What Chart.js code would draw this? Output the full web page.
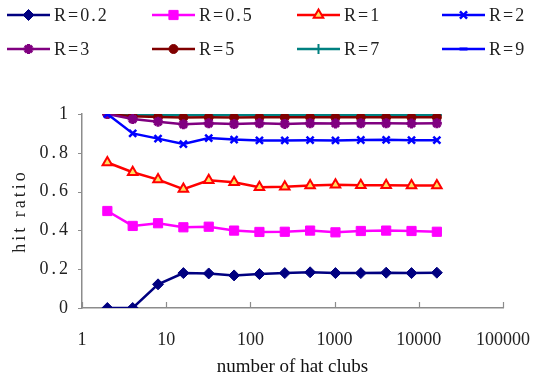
<!DOCTYPE html>
<html><head><meta charset="utf-8">
<script src="https://cdn.jsdelivr.net/npm/chart.js@4"></script>
<style>html,body{margin:0;padding:0;background:#fff;}#wrap{width:554px;height:383px;position:relative;}</style>
</head><body><div id="wrap"><canvas id="c" width="554" height="383"></canvas></div>
<script>
// ---- data ----
const hatClubs = [2,4,8,16,32,64,128,256,512,1024,2048,4096,8192,16384];
const seriesNames = ['R=0.2','R=0.5','R=1','R=2','R=3','R=5','R=7','R=9'];
const r02 = [0, 0, 0.122, 0.180, 0.178, 0.168, 0.175, 0.180, 0.184, 0.180, 0.180, 0.182, 0.180, 0.182];
const r05 = [0.500, 0.423, 0.437, 0.416, 0.419, 0.399, 0.392, 0.393, 0.399, 0.390, 0.397, 0.399, 0.397, 0.393];
const r1  = [0.750, 0.700, 0.662, 0.613, 0.658, 0.648, 0.622, 0.625, 0.632, 0.635, 0.633, 0.633, 0.632, 0.632];
const r2  = [1.000, 0.900, 0.873, 0.845, 0.876, 0.868, 0.864, 0.864, 0.865, 0.864, 0.866, 0.867, 0.865, 0.865];
const r3  = [1.000, 0.974, 0.960, 0.947, 0.952, 0.948, 0.952, 0.949, 0.952, 0.951, 0.952, 0.952, 0.951, 0.952];
const r5  = [1.000, 0.988, 0.984, 0.982, 0.983, 0.982, 0.983, 0.983, 0.983, 0.983, 0.983, 0.983, 0.983, 0.983];
const r7  = [1.000, 0.997, 0.995, 0.994, 0.995, 0.995, 0.995, 0.995, 0.995, 0.995, 0.995, 0.995, 0.995, 0.995];
const r9  = [1, 1, 1, 1, 1, 1, 1, 1, 1, 1, 1, 1, 1, 1];
const xTickValues = [1, 10, 100, 1000, 10000, 100000];
const yTickValues = [0, 0.2, 0.4, 0.6, 0.8, 1];
const xTitle = 'number of hat clubs';
const yTitle = 'hit ratio';

// ---- styles ----
const seriesValues = [r02, r05, r1, r2, r3, r5, r7, r9];
const styles = [
  {color:'#000080', point:'rectRot', r:5.5, fill:'#000080', bw:1},
  {color:'#FF00FF', point:'rect', r:6.5, fill:'#FF00FF', bw:1},
  {color:'#FF0000', point:'triangle', r:5.5, fill:'#FFE060', bw:2},
  {color:'#0000FF', point:'crossRot', r:5, fill:'#0000FF', bw:2.5},
  {color:'#800080', point:'star', r:5, fill:'#800080', bw:3},
  {color:'#800000', point:'circle', r:4.5, fill:'#800000', bw:1},
  {color:'#008080', point:'cross', r:5, fill:'#008080', bw:2},
  {color:'#0000FF', point:'line', r:4, fill:'#0000FF', bw:3}
];

const datasets = seriesNames.map((name, i) => ({
  label: name,
  data: hatClubs.map((x, j) => ({x: x, y: seriesValues[i][j]})),
  borderColor: styles[i].color,
  backgroundColor: styles[i].fill,
  borderWidth: 2.5,
  pointStyle: styles[i].point,
  pointRadius: styles[i].r,
  pointBackgroundColor: styles[i].fill,
  pointBorderColor: styles[i].color,
  pointBorderWidth: styles[i].bw,
  tension: 0,
  fill: false
}));

const AXIS_COLOR = '#8c8c8c';

const legendPlugin = {
  id: 'customLegend',
  afterDraw(chart) {
    const ctx = chart.ctx;
    chart.data.datasets.forEach((ds, i) => {
      const col = i % 4, row = Math.floor(i / 4);
      const x0 = 7 + col * 145, y = 15 + row * 34;
      ctx.save();
      ctx.strokeStyle = ds.borderColor; ctx.lineWidth = 2.5;
      ctx.beginPath(); ctx.moveTo(x0, y); ctx.lineTo(x0 + 43, y); ctx.stroke();
      ctx.fillStyle = ds.pointBackgroundColor; ctx.strokeStyle = ds.pointBorderColor;
      ctx.lineWidth = ds.pointBorderWidth;
      Chart.helpers.drawPoint(ctx, {pointStyle: ds.pointStyle, radius: ds.pointRadius, rotation: 0, borderWidth: ds.pointBorderWidth}, x0 + 21.5, y);
      ctx.fillStyle = '#222';
      ctx.font = '18px "Liberation Serif"';
      ctx.letterSpacing = '2px';
      ctx.textBaseline = 'middle'; ctx.textAlign = 'left';
      ctx.fillText(ds.label, x0 + 47, y + 1);
      ctx.restore();
    });
  }
};

const axisTickPlugin = {
  id: 'axisTicks',
  afterDatasetsDraw(chart) {
    const ctx = chart.ctx, xs = chart.scales.x, ys = chart.scales.y;
    const a = chart.chartArea;
    ctx.save();
    ctx.strokeStyle = AXIS_COLOR; ctx.lineWidth = 1.2;
    ctx.beginPath();
    xTickValues.forEach(v => { const px = Math.round(xs.getPixelForValue(v)) + 0.5; ctx.moveTo(px, a.bottom); ctx.lineTo(px, a.bottom - 6); });
    yTickValues.forEach(v => { const py = Math.round(ys.getPixelForValue(v)) + 0.5; ctx.moveTo(a.left - 4, py); ctx.lineTo(a.left, py); });
    ctx.stroke();
    ctx.restore();
  }
};

function spaced(scale, px) {
  if (scale._spacedWrap) return;
  scale._spacedWrap = true;
  const dl = scale.drawLabels.bind(scale), dt = scale.drawTitle.bind(scale);
  scale.drawLabels = function (a) { const c = this.ctx; c.save(); c.letterSpacing = px; dl(a); c.restore(); };
  scale.drawTitle = function (a) { const c = this.ctx; c.save(); c.letterSpacing = px; dt(a); c.restore(); };
}

new Chart(document.getElementById('c'), {
  type: 'line',
  data: { datasets: datasets },
  options: {
    responsive: false,
    animation: false,
    events: [],
    layout: { padding: { top: 114, right: 51, left: 0, bottom: 0 } },
    plugins: { legend: { display: false }, tooltip: { enabled: false } },
    scales: {
      x: {
        type: 'logarithmic', min: 1, max: 100000,
        afterBuildTicks: s => { s.ticks = xTickValues.map(v => ({value: v})); },
        afterFit: s => { s.height = 75; },
        grid: { display: false, drawTicks: false },
        border: { display: true, color: AXIS_COLOR, width: 1.5 },
        ticks: { padding: 21, color: '#222', maxRotation: 0, autoSkip: false,
                 font: { family: '"Liberation Serif"', size: 18 },
                 callback: v => String(v) },
        title: { display: true, text: xTitle, color: '#111',
                 font: { family: '"Liberation Serif"', size: 19 }, padding: { top: 0, bottom: 5 } }
      },
      y: {
        min: 0, max: 1,
        afterBuildTicks: s => { s.ticks = yTickValues.map(v => ({value: v})); },
        afterFit: s => { s.width = 82; spaced(s, '3px'); },
        grid: { display: false, drawTicks: false },
        border: { display: true, color: AXIS_COLOR, width: 1.5 },
        ticks: { padding: 11, color: '#222',
                 font: { family: '"Liberation Serif"', size: 18 },
                 callback: v => (v === 0 ? '0' : v === 1 ? '1' : v.toFixed(1)) },
        title: { display: true, text: yTitle, color: '#222',
                 font: { family: '"Liberation Serif"', size: 18 }, padding: { top: 9, bottom: 0 } }
      }
    }
  },
  plugins: [legendPlugin, axisTickPlugin]
});
</script>
</body></html>
